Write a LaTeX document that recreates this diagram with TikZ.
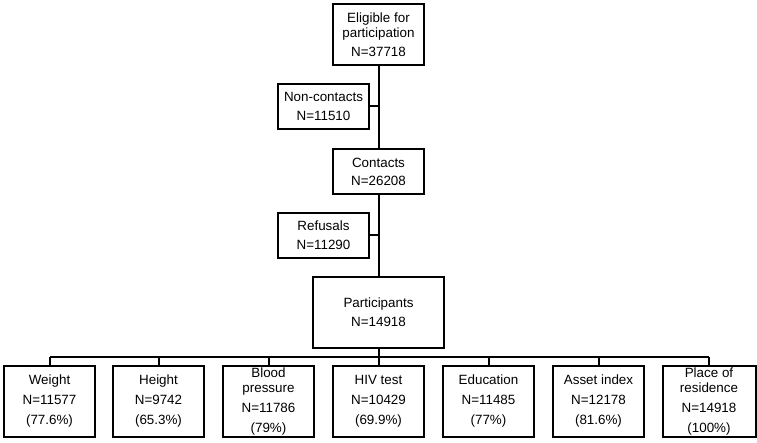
\documentclass[tikz,border=0pt]{standalone}
\usepackage{fontspec}
\setmainfont{Liberation Sans}
\begin{document}
\begin{tikzpicture}[x=1pt,y=-1pt,
  box/.style={draw, line width=2pt, inner sep=0pt, align=center,
    minimum width=91pt, minimum height=45pt,
    font=\fontsize{13.4}{15}\selectfont},
  tall/.style={minimum height=71pt},
  conn/.style={line width=2pt}]
\useasboundingbox (0,0) rectangle (757,443);
\node[box, minimum height=61pt] (elig) at (378.5,34.5) {Eligible for\\participation\\[4pt]N=37718};
\node[box] (noncon) at (323.5,106.5) {Non-contacts\\[4pt]N=11510};
\node[box] (contacts) at (378.5,171.5) {Contacts\\[3pt]N=26208};
\node[box] (refusals) at (323.5,235.5) {Refusals\\[4pt]N=11290};
\node[box, tall, minimum width=131pt] (part) at (378.5,312.5) {Participants\\[4pt]N=14918};
\node[box, tall] (weight) at (49.5,401.5) {Weight\\[5pt]N=11577\\[5pt](77.6\%)};
\node[box, tall] (height) at (158.5,401.5) {Height\\[5pt]N=9742\\[5pt](65.3\%)};
\node[box, tall] (blood) at (268.5,401.5) {Blood\\pressure\\[5pt]N=11786\\[5pt](79\%)};
\node[box, tall] (hiv) at (378.5,401.5) {HIV test\\[5pt]N=10429\\[5pt](69.9\%)};
\node[box, tall] (edu) at (488.5,401.5) {Education\\[5pt]N=11485\\[5pt](77\%)};
\node[box, tall] (asset) at (598.5,401.5) {Asset index\\[5pt]N=12178\\[5pt](81.6\%)};
\node[box, tall, minimum width=93pt] (place) at (709,401.5) {Place of\\residence\\[5pt]N=14918\\[5pt](100\%)};
\draw[conn] (elig.south) -- (contacts.north);
\draw[conn] (contacts.south) -- (contacts.south |- part.north);
\draw[conn] (noncon.east) -- (noncon.east -| elig.south);
\draw[conn] (refusals.east) -- (refusals.east -| contacts.south);
\coordinate (bus) at (378.5,357);
\draw[conn] (part.south) -- (bus);
\draw[conn] (weight.north |- bus) -- (place.north |- bus);
\foreach \n in {weight,height,blood,hiv,edu,asset,place}
  \draw[conn] (\n.north) -- (\n.north |- bus);
\end{tikzpicture}
\end{document}
